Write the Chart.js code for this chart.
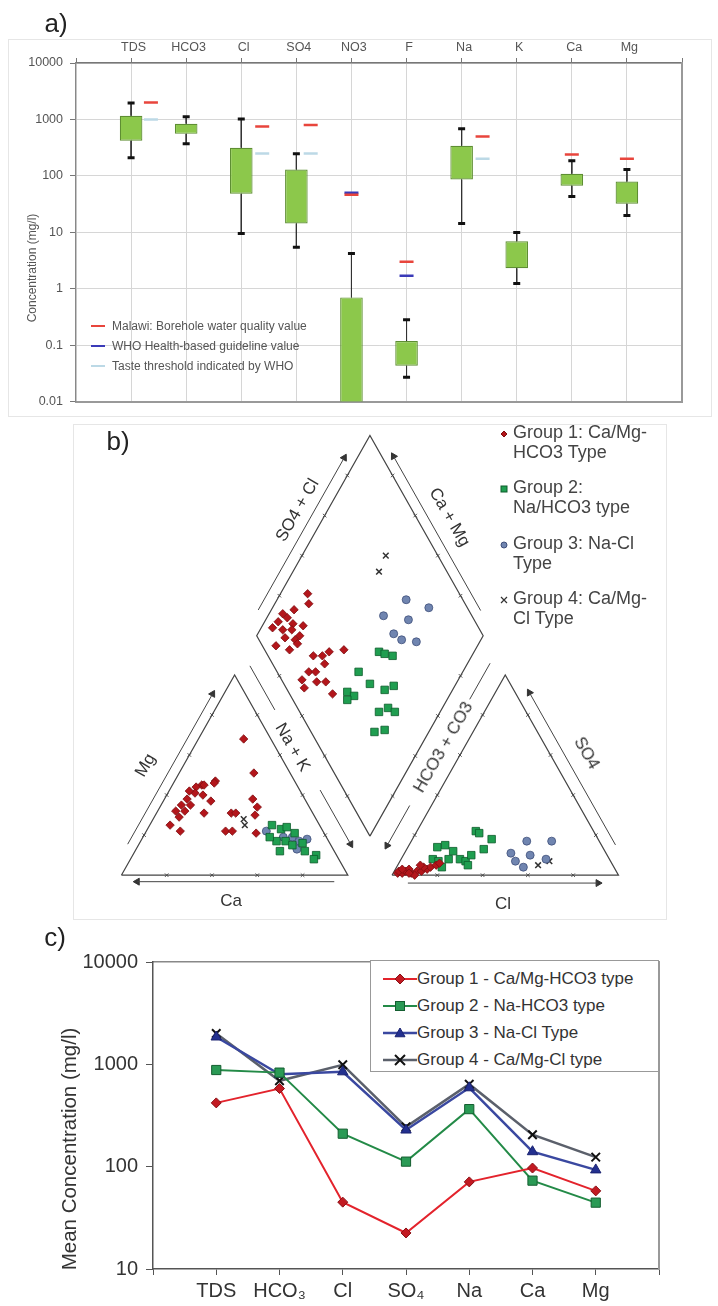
<!DOCTYPE html>
<html lang="en">
<head>
<meta charset="UTF-8">
<title>Groundwater chemistry</title>
<script src="https://cdn.jsdelivr.net/npm/chart.js"></script>
<style>
    body { margin: 0; background: #fff; font-family: "Liberation Sans", Arial, sans-serif; }
    #page { position: relative; width: 718px; height: 1306px; overflow: hidden; }
    canvas { position: absolute; }
    .t { position: absolute; white-space: nowrap; line-height: 1; }
    .frame { position: absolute; border: 1px solid #e6e6e6; }
</style>
</head>
<body>
<div id="page">
    <div class="frame" style="left:8px;top:39px;width:702px;height:376px"></div>
    <div class="frame" style="left:73px;top:424px;width:592px;height:494px"></div>
    <canvas id="boxChart" width="700" height="380" style="left:0;top:36px"></canvas>
    <canvas id="piperChart" width="601" height="498" style="left:70px;top:418px"></canvas>
    <canvas id="meanChart" width="700" height="366" style="left:0;top:940px"></canvas>
</div>

<script>
    // ---------- a) concentration ranges ----------
    const elements = ['TDS', 'HCO3', 'Cl', 'SO4', 'NO3', 'F', 'Na', 'K', 'Ca', 'Mg'];
    const boxMin = [210, 370, 9.5, 5.4, null, 0.027, 14.3, 1.24, 43, 19.8];
    const boxQ1 = [420, 555, 48, 14.3, 0.0095, 0.043, 86, 2.3, 67, 32];
    const boxQ3 = [1160, 840, 315, 129, 0.70, 0.118, 342, 6.9, 109, 79];
    const boxMax = [1960, 1110, 1020, 247, 4.2, 0.28, 680, 9.9, 186, 129];
    const malawiValue = [2000, null, 750, 800, 46, 3.0, 500, null, 240, 200];
    const whoValue = [null, null, null, null, 50, 1.7, null, null, null, null];
    const tasteValue = [1000, null, 250, 250, null, null, 200, null, null, null];
    const concTicks = [0.01, 0.1, 1, 10, 100, 1000, 10000];
    const guideNames = ['Malawi: Borehole water quality value', 'WHO Health-based guideline value', 'Taste threshold indicated by WHO'];

    // ---------- b) piper diagram ----------
    // cation triangle: [Na+K %, Mg %]
    const g1Cat = [[20,68],[33,51],[18,47],[13,45],[11,44],[14,45],[18,46],[12,41],[10,38],[13,35],[12,32],[8,32],[21,31],[21,37],[9,25],[15,22],[33,31],[35,31],[39,38],[43,34],[44,30],[35,22],[38,22],[49,21],[9,42],[9,35],[16,40],[11,29]];
    const g2Cat = [[54,25],[59,23],[61,24],[66,21],[60,17],[64,17],[64,12],[68,15],[72,16],[75,12],[81,10],[81,8],[56,19]];
    const g3Cat = [[53,22],[62,19],[66,19],[70,17],[73,18],[71,13]];
    const g4Cat = [[40,28],[42,25]];
    // anion triangle: [Cl %, SO4 %]
    const g1An = [[2,1],[4,1],[5,2],[8,1],[10,2],[12,2],[14,3],[15,4],[17,5],[6,3],[12,4],[2,2],[10,0],[18,6],[10,5],[7,1],[3,3]];
    const g2An = [[13,14],[16,15],[21,12],[21,8],[14,8],[17,7],[20,4],[26,8],[29,7],[30,10],[26,22],[28,21],[35,18],[34,13],[31,5]];
    const g3An = [[51,17],[62,17],[47,11],[51,7],[56,10],[56,4],[64,8]];
    const g4An = [[62,5],[66,7]];
    // diamond: [Ca+Mg %, SO4+Cl %]
    const g1Dia = [[88,33],[85,31],[90,23],[90,13],[81,19],[82,11],[89,6],[70,20],[66,24],[64,28],[58,35],[63,23],[68,14],[65,17],[69,9],[62,15],[58,19],[66,8],[52,19],[91,18],[87,19],[94,13],[87,12],[82,16],[95,9],[86,17],[82,23],[94,17],[80,16]];
    const g2Dia = [[42,50],[39,52],[35,55],[46,36],[38,38],[30,43],[27,48],[46,26],[42,28],[44,24],[27,35],[24,40],[20,42],[24,28],[20,33]];
    const g3Dia = [[43,75],[31,83],[49,61],[37,71],[40,61],[35,63],[28,69]];
    const g4Dia = [[63,77],[62,70]];
    const piperNames = ['Group 1: Ca/Mg-\nHCO3 Type', 'Group 2:\nNa/HCO3 type', 'Group 3: Na-Cl\nType', 'Group 4: Ca/Mg-\nCl Type'];

    // ---------- c) mean concentrations ----------
    const meanCats = ['TDS', 'HCO₃', 'Cl', 'SO₄', 'Na', 'Ca', 'Mg'];
    const meanG1 = [420, 580, 45, 22.5, 71, 97, 58];
    const meanG2 = [880, 830, 210, 112, 365, 73, 44.5];
    const meanG3 = [1850, 800, 845, 228, 590, 140, 93];
    const meanG4 = [2000, 690, 990, 245, 640, 205, 124];
    const meanNames = ['Group 1 - Ca/Mg-HCO3 type', 'Group 2 - Na-HCO3 type', 'Group 3 - Na-Cl Type', 'Group 4 - Ca/Mg-Cl type'];
    const meanTicks = [10, 100, 1000, 10000];

    Chart.defaults.font.family = '"Liberation Sans", Arial, sans-serif';
    Chart.defaults.animation = false;

    const page = document.getElementById('page');
    function addText(txt, x, y, size, color, rot) {
        const d = document.createElement('div');
        d.className = 't';
        d.textContent = txt;
        d.style.left = x + 'px';
        d.style.top = y + 'px';
        d.style.fontSize = size + 'px';
        d.style.color = color;
        d.style.transform = 'translate(-50%,-50%) rotate(' + (rot || 0) + 'deg)';
        page.appendChild(d);
        return d;
    }

    function markerSvg(kind, cx, cy, r, fill, edge, lw) {
        if (kind === 'rectRot') return `<polygon points="${cx},${cy-r} ${cx+r},${cy} ${cx},${cy+r} ${cx-r},${cy}" fill="${fill}" stroke="${edge}" stroke-width="1"/>`;
        if (kind === 'rect') return `<rect x="${cx-r}" y="${cy-r}" width="${2*r}" height="${2*r}" fill="${fill}" stroke="${edge}" stroke-width="1"/>`;
        if (kind === 'circle') return `<circle cx="${cx}" cy="${cy}" r="${r}" fill="${fill}" stroke="${edge}" stroke-width="1"/>`;
        if (kind === 'triangle') return `<polygon points="${cx},${cy-r} ${cx+r},${cy+r*0.75} ${cx-r},${cy+r*0.75}" fill="${fill}" stroke="${edge}" stroke-width="1"/>`;
        return `<path d="M${cx-r},${cy-r}L${cx+r},${cy+r}M${cx+r},${cy-r}L${cx-r},${cy+r}" stroke="${edge}" stroke-width="${lw || 1.5}"/>`;
    }

    // ================= a) box plot =================
    const markerShift = [0.36, 0, 0.38, 0.26, 0, 0, 0.38, 0, 0, 0];
    const guideColors = ['#e8453c', '#3a3ab8', '#bcd9e6'];
    function guideData(vals) {
        return vals.map((v, i) => v == null ? null : { x: i + 0.5 + markerShift[i], y: v }).filter(Boolean);
    }
    const whiskers = [];
    const caps = [];
    elements.forEach((e, i) => {
        const x = i + 0.5;
        whiskers.push({ x, y: boxMax[i] }, { x, y: boxQ3[i] }, { x, y: null },
                      { x, y: boxQ1[i] }, { x, y: boxMin[i] }, { x, y: null });
        caps.push({ x, y: boxMax[i] });
        if (boxMin[i] != null) caps.push({ x, y: boxMin[i] });
    });
    const guideSet = (label, vals, color) => ({
        type: 'scatter', label, data: guideData(vals), pointStyle: 'line', pointRadius: 7,
        borderColor: color, pointBorderWidth: 2.5, order: 0
    });

    new Chart(document.getElementById('boxChart'), {
        type: 'bar',
        data: {
            datasets: [
                {
                    type: 'bar', label: 'range',
                    data: elements.map((e, i) => ({ x: i + 0.5, y: [boxQ1[i], boxQ3[i]] })),
                    backgroundColor: '#8cc84b', borderColor: '#5e8e33', borderWidth: 1.2,
                    borderSkipped: false, barPercentage: 0.41, categoryPercentage: 1, order: 2
                },
                {
                    type: 'line', label: 'whisker', data: whiskers, borderColor: '#333', borderWidth: 1,
                    pointRadius: 0, spanGaps: false, order: 3
                },
                {
                    type: 'scatter', label: 'caps', data: caps, pointStyle: 'line', pointRadius: 3.5,
                    borderColor: '#111', pointBorderWidth: 3, order: 1
                },
                guideSet(guideNames[2], tasteValue, guideColors[2]),
                guideSet(guideNames[0], malawiValue, guideColors[0]),
                guideSet(guideNames[1], whoValue, guideColors[1])
            ]
        },
        options: {
            responsive: false,
            layout: { padding: { right: 18, bottom: 14 } },
            plugins: { legend: { display: false }, tooltip: { enabled: false } },
            scales: {
                x: {
                    type: 'linear', position: 'top', min: 0, max: 10,
                    afterFit: s => { s.height = 27; },
                    ticks: {
                        stepSize: 1, autoSkip: false, maxRotation: 0, labelOffset: 30, padding: 3,
                        color: '#555', font: { size: 12.5 }, callback: v => elements[v] ?? ''
                    },
                    grid: { color: '#d6d6d6', tickColor: '#777', tickLength: 5 },
                    border: { color: '#777', width: 1.5 }
                },
                xb: {
                    type: 'linear', position: 'bottom', min: 0, max: 10,
                    afterFit: s => { s.height = 0; },
                    ticks: { display: false }, grid: { display: false },
                    border: { color: '#999', width: 2 }
                },
                y: {
                    type: 'logarithmic', min: 0.01, max: 10000,
                    afterFit: s => { s.width = 76; },
                    afterBuildTicks: s => { s.ticks = concTicks.map(v => ({ value: v })); },
                    ticks: { callback: v => String(v), color: '#555', font: { size: 12.5 }, padding: 7 },
                    grid: { color: '#d6d6d6', tickColor: '#777', tickLength: 6 },
                    border: { color: '#888', width: 1.2 }
                },
                y2: {
                    type: 'logarithmic', position: 'right', min: 0.01, max: 10000,
                    afterFit: s => { s.width = 0; },
                    ticks: { display: false }, grid: { display: false },
                    border: { color: '#999', width: 2 }
                }
            }
        }
    });

    addText('a)', 56, 23, 26, '#222');
    addText('Concentration (mg/l)', 32, 268, 12, '#555', -90);
    guideNames.forEach((name, i) => {
        const y = 326 + 20 * i;
        const line = document.createElement('div');
        line.style.cssText = `position:absolute;left:91px;top:${y - 1}px;width:14px;height:2px;background:${guideColors[i]}`;
        page.appendChild(line);
        const t = addText(name, 112, y, 12, '#555');
        t.style.transform = 'translate(0,-50%)';
    });

    // ================= b) piper diagram =================
    const H = Math.sqrt(3) / 2;
    const GAP = 0.195;
    const X0 = 1 + GAP;
    const SX = 601 / 2.6, SY = 498 / 2.1;
    const P = {
        A: { x: 0, y: 0 }, B: { x: 1, y: 0 }, C: { x: 0.5, y: H },
        A2: { x: X0, y: 0 }, B2: { x: X0 + 1, y: 0 }, C2: { x: X0 + 0.5, y: H },
        D: { x: 1 + GAP / 2, y: GAP * H }, L: { x: 0.5 + GAP / 2, y: GAP * H + H },
        T: { x: 1 + GAP / 2, y: GAP * H + 2 * H }, R: { x: 1.5 + GAP / 2, y: GAP * H + H }
    };
    const NL = { x: -H, y: 0.5 }, NR = { x: H, y: 0.5 }, NDOWN = { x: 0, y: -1 };
    const along = (p, q, t, n, o) => ({ x: p.x + t * (q.x - p.x) + o * n.x, y: p.y + t * (q.y - p.y) + o * n.y });

    const cationXY = ([na, mg]) => ({ x: (na + mg / 2) / 100, y: H * mg / 100 });
    const anionXY = ([cl, so4]) => ({ x: X0 + (cl + so4 / 2) / 100, y: H * so4 / 100 });
    const diamondXY = ([cam, scl]) => ({ x: P.D.x + (scl - cam) / 200, y: P.D.y + H * (cam + scl) / 100 });

    const outlines = [[P.A, P.B, P.C, P.A], [P.A2, P.B2, P.C2, P.A2], [P.D, P.R, P.T, P.L, P.D]];
    const edges = [[P.A, P.B], [P.B, P.C], [P.C, P.A], [P.A2, P.B2], [P.B2, P.C2], [P.C2, P.A2],
                   [P.D, P.R], [P.R, P.T], [P.T, P.L], [P.L, P.D]];
    const tickPts = edges.flatMap(([p, q]) => [0.2, 0.4, 0.6, 0.8].map(t => along(p, q, t, NL, 0)));
    const arrows = [
        [P.B, P.A, NDOWN, 0.028, [[0.06, 0.93, true]]],
        [P.A2, P.B2, NDOWN, 0.034, [[0.07, 0.91, true]]],
        [P.A, P.C, NL, 0.043, [[0.13, 0.88, true]]],
        [P.C, P.B, NR, 0.078, [[0.0, 0.22, false], [0.62, 0.89, true]]],
        [P.C2, P.A2, NL, 0.083, [[-0.01, 0.17, false], [0.7, 0.9, true]]],
        [P.L, P.T, NL, 0.05, [[0.1, 0.86, true]]],
        [P.R, P.T, NR, 0.045, [[0.1, 0.87, true]]],
        [P.B2, P.C2, NR, 0.054, [[0.12, 0.88, true]]]
    ];

    const frameSets = outlines.map(pts => ({
        data: pts, showLine: true, borderColor: '#444', borderWidth: 1.2, pointRadius: 0, order: 5
    }));
    arrows.forEach(([p, q, n, o, segs]) => {
        segs.forEach(([t0, t1, head]) => {
            const a = along(p, q, t0, n, o), b = along(p, q, t1, n, o);
            frameSets.push({ data: [a, b], showLine: true, borderColor: '#444', borderWidth: 1, pointRadius: 0, order: 5 });
            if (head) {
                const rot = Math.atan2((q.x - p.x) * SX, (q.y - p.y) * SY) * 180 / Math.PI;
                frameSets.push({
                    data: [b], pointStyle: 'triangle', pointRadius: 4, pointRotation: rot,
                    backgroundColor: '#333', borderColor: '#333', borderWidth: 1, order: 5
                });
            }
        });
    });
    frameSets.push({ data: tickPts, pointStyle: 'crossRot', pointRadius: 2.5, borderColor: '#555', borderWidth: 1, order: 5 });

    const piperStyles = [
        { point: 'rectRot', r: 4.2, fill: '#b3161b', edge: '#7c0d10' },
        { point: 'rect', r: 5.3, fill: '#1f9e50', edge: '#0d5c2b' },
        { point: 'circle', r: 4, fill: '#7085b0', edge: '#3f4f7a' },
        { point: 'crossRot', r: 4, fill: '#333', edge: '#333' }
    ];
    const piperData = [
        [g1Cat, g1An, g1Dia], [g2Cat, g2An, g2Dia], [g3Cat, g3An, g3Dia], [g4Cat, g4An, g4Dia]
    ];
    const groupSets = piperData.map(([cat, an, dia], i) => ({
        label: piperNames[i],
        data: [...cat.map(cationXY), ...an.map(anionXY), ...dia.map(diamondXY)],
        pointStyle: piperStyles[i].point, pointRadius: piperStyles[i].r,
        backgroundColor: piperStyles[i].fill, borderColor: piperStyles[i].edge,
        borderWidth: i === 3 ? 1.5 : 0.8, order: 1
    }));

    new Chart(document.getElementById('piperChart'), {
        type: 'scatter',
        data: { datasets: [...frameSets, ...groupSets] },
        options: {
            responsive: false,
            plugins: { legend: { display: false }, tooltip: { enabled: false } },
            scales: {
                x: { type: 'linear', min: -0.2, max: 2.4, display: false },
                y: { type: 'linear', min: -0.15, max: 1.95, display: false }
            }
        }
    });

    addText('b)', 118, 441, 26, '#222');
    addText('SO4 + Cl', 297, 510, 17, '#333', -60);
    addText('Ca + Mg', 450, 517, 17, '#333', 60);
    addText('Na + K', 293, 747, 17, '#333', 60);
    addText('HCO3 + CO3', 443, 747, 17, '#333', -60);
    addText('Mg', 145, 765, 17, '#333', -60);
    addText('SO4', 587, 753, 17, '#333', 60);
    addText('Ca', 231, 900, 17, '#333');
    addText('Cl', 503, 903, 17, '#333');

    const legendTops = [422, 477, 533, 588];
    piperNames.forEach((name, i) => {
        const st = piperStyles[i];
        const d = document.createElement('div');
        d.style.cssText = `position:absolute;left:513px;top:${legendTops[i]}px;font-size:18px;line-height:20px;color:#444;white-space:pre`;
        d.textContent = name;
        page.appendChild(d);
        const m = document.createElement('div');
        m.style.cssText = `position:absolute;left:498px;top:${legendTops[i] + 4}px;width:12px;height:12px`;
        m.innerHTML = `<svg width="12" height="12">${markerSvg(st.point, 6, 6, i === 1 ? 3 : 3, st.fill, st.edge, 1.2)}</svg>`;
        page.appendChild(m);
    });

    // ================= c) mean concentrations =================
    const meanStyles = [
        { line: '#e3232c', point: 'rectRot', fill: '#c21a22', edge: '#8a1015', r: 5, w: 2 },
        { line: '#238a47', point: 'rect', fill: '#2a9a55', edge: '#145e30', r: 6.5, w: 2 },
        { line: '#3a48a0', point: 'triangle', fill: '#23308f', edge: '#1a2270', r: 6, w: 2.5 },
        { line: '#5b606b', point: 'crossRot', fill: '#111', edge: '#111', r: 6, w: 2.5 }
    ];
    const meanSeries = [meanG1, meanG2, meanG3, meanG4];

    new Chart(document.getElementById('meanChart'), {
        type: 'line',
        data: {
            datasets: meanSeries.map((vals, i) => ({
                label: meanNames[i],
                data: vals.map((v, j) => ({ x: j + 1, y: v })),
                borderColor: meanStyles[i].line, borderWidth: meanStyles[i].w,
                pointStyle: meanStyles[i].point, pointRadius: meanStyles[i].r,
                pointBackgroundColor: meanStyles[i].fill, pointBorderColor: meanStyles[i].edge,
                pointBorderWidth: i === 3 ? 2 : 1, tension: 0
            }))
        },
        options: {
            responsive: false,
            layout: { padding: { top: 22, right: 41 } },
            plugins: { legend: { display: false }, tooltip: { enabled: false } },
            scales: {
                x: {
                    type: 'linear', min: 0, max: 8,
                    afterFit: s => { s.height = 37; },
                    ticks: {
                        stepSize: 1, autoSkip: false, maxRotation: 0, padding: 4,
                        color: '#333', font: { size: 20 }, callback: v => meanCats[v - 1] ?? ''
                    },
                    grid: { drawOnChartArea: false, tickColor: '#555', tickLength: 6 },
                    border: { color: '#555', width: 1.5 }
                },
                xt: {
                    type: 'linear', position: 'top', min: 0, max: 8,
                    afterFit: s => { s.height = 0; },
                    ticks: { display: false }, grid: { display: false },
                    border: { color: '#888', width: 1.5 }
                },
                y: {
                    type: 'logarithmic', min: 10, max: 10000,
                    afterFit: s => { s.width = 153; },
                    afterBuildTicks: s => { s.ticks = meanTicks.map(v => ({ value: v })); },
                    ticks: { callback: v => String(v), color: '#333', font: { size: 20 }, padding: 8 },
                    grid: { drawOnChartArea: false, tickColor: '#555', tickLength: 7 },
                    border: { color: '#555', width: 1.5 }
                },
                y2: {
                    type: 'logarithmic', position: 'right', min: 10, max: 10000,
                    afterFit: s => { s.width = 0; },
                    ticks: { display: false }, grid: { display: false },
                    border: { color: '#999', width: 2 }
                }
            }
        }
    });

    addText('c)', 55, 937, 26, '#222');
    addText('Mean Concentration (mg/l)', 69, 1149, 20.5, '#333', -90);

    const legC = document.createElement('div');
    legC.style.cssText = 'position:absolute;left:370px;top:960px;width:287px;height:110px;border:1.5px solid #999;background:#fff';
    page.appendChild(legC);
    meanNames.forEach((name, i) => {
        const st = meanStyles[i];
        const row = document.createElement('div');
        row.style.cssText = `position:absolute;left:383px;top:${979 + 27 * i - 10}px;height:20px;display:flex;align-items:center;font-size:17px;color:#333;white-space:nowrap`;
        row.innerHTML = `<svg width="34" height="20"><line x1="0" y1="10" x2="34" y2="10" stroke="${st.line}" stroke-width="${st.w}"/>` +
            markerSvg(st.point, 17, 10, st.point === 'rect' ? 4.5 : 5, st.fill, st.edge, 2) + `</svg><span>${name}</span>`;
        page.appendChild(row);
    });
</script>
</body>
</html>
